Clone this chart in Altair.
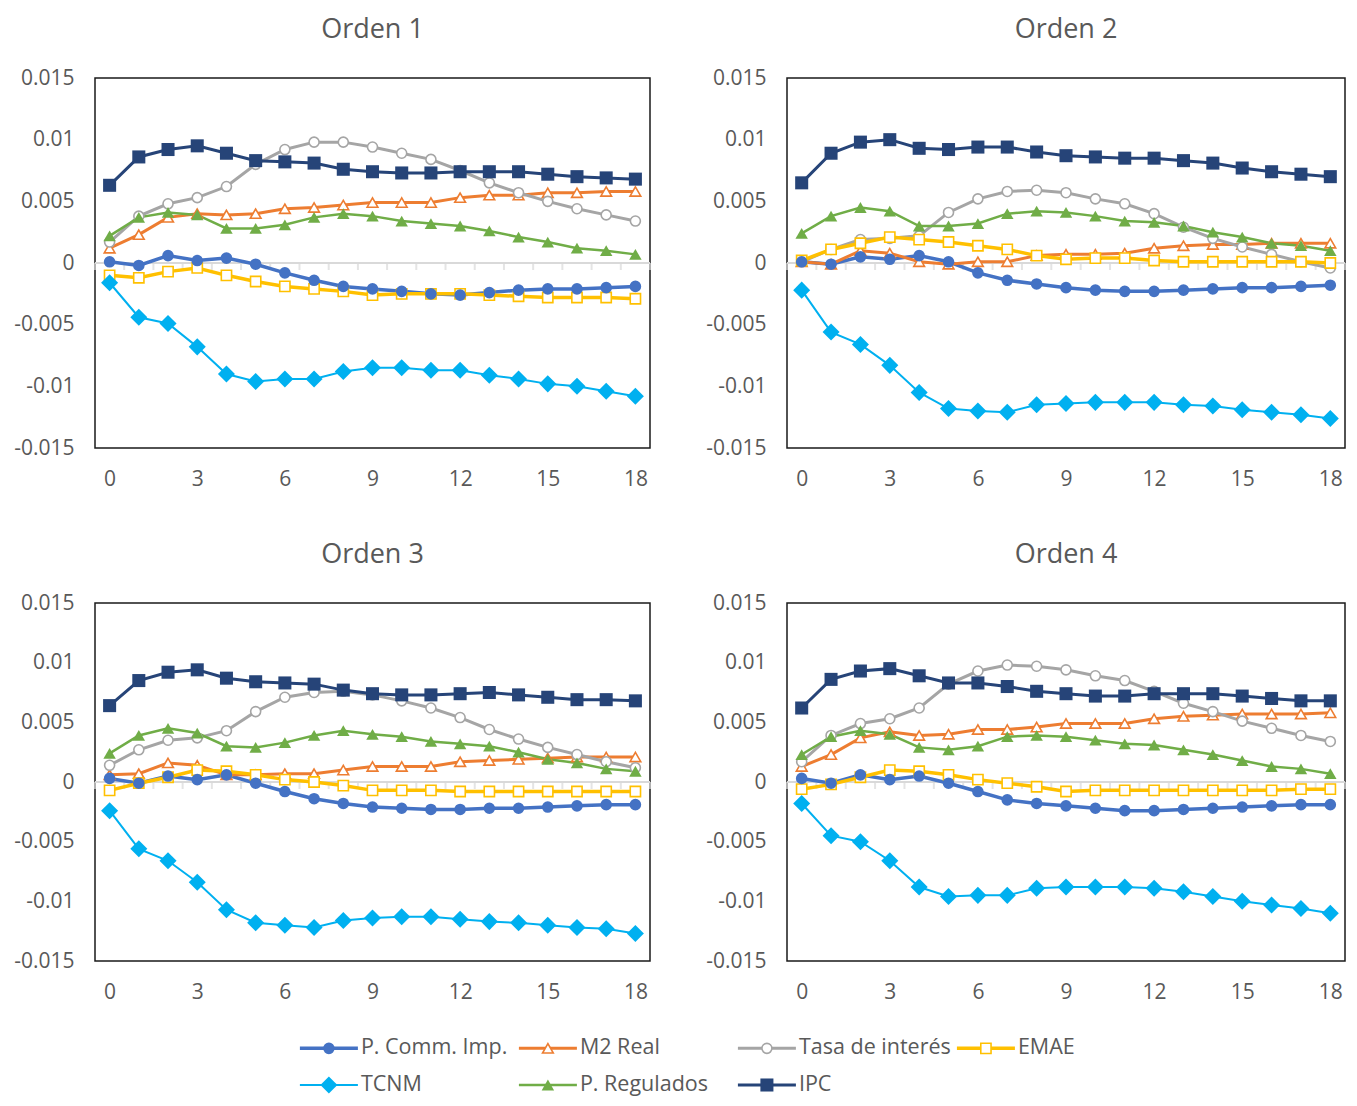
import altair as alt
import pandas as pd

HORIZON = list(range(19))
SERIES = ["P. Comm. Imp.", "M2 Real", "Tasa de interés", "EMAE", "TCNM", "P. Regulados", "IPC"]
COLORS = ["#4472C4", "#ED7D31", "#A5A5A5", "#FFC000", "#00B0F0", "#70AD47", "#264478"]
SHAPES = ["circle", "triangle-up", "circle", "square", "diamond", "triangle-up", "square"]
FILLED = [True, False, False, False, True, True, True]
LINE_W = [3.5, 3, 3, 3.5, 2, 2.5, 3]
MARK_SIZE = [135, 115, 100, 105, 290, 155, 170]
TITLES = ["Orden 1", "Orden 2", "Orden 3", "Orden 4"]
Y_TICKS = [-0.015, -0.01, -0.005, 0, 0.005, 0.01, 0.015]
X_TICKS = [0, 3, 6, 9, 12, 15, 18]
LEG_COL = [0, 1, 2, 3, 0, 1, 2]
LEG_ROW = [0, 0, 0, 0, 1, 1, 1]

# Orden 1
PCOMM1 = [0.0001, -0.0002, 0.0006, 0.0002, 0.0004, -0.0001, -0.0008, -0.0014, -0.0019, -0.0021, -0.0023, -0.0025, -0.0026, -0.0024, -0.0022, -0.0021, -0.0021, -0.0020, -0.0019]
M2_1 = [0.0012, 0.0023, 0.0037, 0.0040, 0.0039, 0.0040, 0.0044, 0.0045, 0.0047, 0.0049, 0.0049, 0.0049, 0.0053, 0.0055, 0.0055, 0.0057, 0.0057, 0.0058, 0.0058]
TASA1 = [0.0017, 0.0038, 0.0048, 0.0053, 0.0062, 0.0080, 0.0092, 0.0098, 0.0098, 0.0094, 0.0089, 0.0084, 0.0075, 0.0065, 0.0057, 0.0050, 0.0044, 0.0039, 0.0034]
EMAE1 = [-0.0010, -0.0012, -0.0007, -0.0004, -0.0010, -0.0015, -0.0019, -0.0021, -0.0023, -0.0026, -0.0025, -0.0025, -0.0025, -0.0026, -0.0027, -0.0028, -0.0028, -0.0028, -0.0029]
TCNM1 = [-0.0016, -0.0044, -0.0049, -0.0068, -0.0090, -0.0096, -0.0094, -0.0094, -0.0088, -0.0085, -0.0085, -0.0087, -0.0087, -0.0091, -0.0094, -0.0098, -0.0100, -0.0104, -0.0108]
PREG1 = [0.0022, 0.0037, 0.0041, 0.0039, 0.0028, 0.0028, 0.0031, 0.0037, 0.0040, 0.0038, 0.0034, 0.0032, 0.0030, 0.0026, 0.0021, 0.0017, 0.0012, 0.0010, 0.0007]
IPC1 = [0.0063, 0.0086, 0.0092, 0.0095, 0.0089, 0.0083, 0.0082, 0.0081, 0.0076, 0.0074, 0.0073, 0.0073, 0.0074, 0.0074, 0.0074, 0.0072, 0.0070, 0.0069, 0.0068]

# Orden 2
PCOMM2 = [0.0001, -0.0001, 0.0005, 0.0003, 0.0006, 0.0001, -0.0008, -0.0014, -0.0017, -0.0020, -0.0022, -0.0023, -0.0023, -0.0022, -0.0021, -0.0020, -0.0020, -0.0019, -0.0018]
M2_2 = [0.0001, -0.0001, 0.0010, 0.0008, 0.0001, -0.0001, 0.0001, 0.0001, 0.0006, 0.0007, 0.0007, 0.0008, 0.0012, 0.0014, 0.0015, 0.0015, 0.0016, 0.0016, 0.0016]
TASA2 = [0.0001, 0.0011, 0.0019, 0.0020, 0.0022, 0.0041, 0.0052, 0.0058, 0.0059, 0.0057, 0.0052, 0.0048, 0.0040, 0.0029, 0.0020, 0.0013, 0.0007, 0.0001, -0.0004]
EMAE2 = [0.0002, 0.0011, 0.0016, 0.0021, 0.0019, 0.0017, 0.0014, 0.0011, 0.0006, 0.0003, 0.0004, 0.0004, 0.0002, 0.0001, 0.0001, 0.0001, 0.0001, 0.0001, 0.0000]
TCNM2 = [-0.0022, -0.0056, -0.0066, -0.0083, -0.0105, -0.0118, -0.0120, -0.0121, -0.0115, -0.0114, -0.0113, -0.0113, -0.0113, -0.0115, -0.0116, -0.0119, -0.0121, -0.0123, -0.0126]
PREG2 = [0.0024, 0.0038, 0.0045, 0.0042, 0.0030, 0.0030, 0.0032, 0.0040, 0.0042, 0.0041, 0.0038, 0.0034, 0.0033, 0.0030, 0.0025, 0.0021, 0.0016, 0.0014, 0.0010]
IPC2 = [0.0065, 0.0089, 0.0098, 0.0100, 0.0093, 0.0092, 0.0094, 0.0094, 0.0090, 0.0087, 0.0086, 0.0085, 0.0085, 0.0083, 0.0081, 0.0077, 0.0074, 0.0072, 0.0070]

# Orden 3
PCOMM3 = [0.0003, -0.0001, 0.0005, 0.0002, 0.0006, -0.0001, -0.0008, -0.0014, -0.0018, -0.0021, -0.0022, -0.0023, -0.0023, -0.0022, -0.0022, -0.0021, -0.0020, -0.0019, -0.0019]
M2_3 = [0.0006, 0.0007, 0.0016, 0.0014, 0.0006, 0.0006, 0.0007, 0.0007, 0.0010, 0.0013, 0.0013, 0.0013, 0.0017, 0.0018, 0.0019, 0.0020, 0.0021, 0.0021, 0.0021]
TASA3 = [0.0014, 0.0027, 0.0035, 0.0037, 0.0043, 0.0059, 0.0071, 0.0075, 0.0076, 0.0073, 0.0068, 0.0062, 0.0054, 0.0044, 0.0036, 0.0029, 0.0023, 0.0017, 0.0012]
EMAE3 = [-0.0007, -0.0001, 0.0004, 0.0010, 0.0009, 0.0006, 0.0002, 0.0000, -0.0003, -0.0007, -0.0007, -0.0007, -0.0008, -0.0008, -0.0008, -0.0008, -0.0008, -0.0008, -0.0008]
TCNM3 = [-0.0024, -0.0056, -0.0066, -0.0084, -0.0107, -0.0118, -0.0120, -0.0122, -0.0116, -0.0114, -0.0113, -0.0113, -0.0115, -0.0117, -0.0118, -0.0120, -0.0122, -0.0123, -0.0127]
PREG3 = [0.0024, 0.0039, 0.0045, 0.0041, 0.0030, 0.0029, 0.0033, 0.0039, 0.0043, 0.0040, 0.0038, 0.0034, 0.0032, 0.0030, 0.0025, 0.0019, 0.0016, 0.0011, 0.0009]
IPC3 = [0.0064, 0.0085, 0.0092, 0.0094, 0.0087, 0.0084, 0.0083, 0.0082, 0.0077, 0.0074, 0.0073, 0.0073, 0.0074, 0.0075, 0.0073, 0.0071, 0.0069, 0.0069, 0.0068]

# Orden 4
PCOMM4 = [0.0003, -0.0001, 0.0006, 0.0002, 0.0005, -0.0001, -0.0008, -0.0015, -0.0018, -0.0020, -0.0022, -0.0024, -0.0024, -0.0023, -0.0022, -0.0021, -0.0020, -0.0019, -0.0019]
M2_4 = [0.0013, 0.0023, 0.0037, 0.0042, 0.0039, 0.0040, 0.0044, 0.0044, 0.0046, 0.0049, 0.0049, 0.0049, 0.0053, 0.0055, 0.0056, 0.0057, 0.0057, 0.0057, 0.0058]
TASA4 = [0.0017, 0.0039, 0.0049, 0.0053, 0.0062, 0.0082, 0.0093, 0.0098, 0.0097, 0.0094, 0.0089, 0.0085, 0.0076, 0.0066, 0.0059, 0.0051, 0.0045, 0.0039, 0.0034]
EMAE4 = [-0.0006, -0.0002, 0.0004, 0.0010, 0.0009, 0.0006, 0.0002, -0.0001, -0.0004, -0.0008, -0.0007, -0.0007, -0.0007, -0.0007, -0.0007, -0.0007, -0.0007, -0.0006, -0.0006]
TCNM4 = [-0.0018, -0.0045, -0.0050, -0.0066, -0.0088, -0.0096, -0.0095, -0.0095, -0.0089, -0.0088, -0.0088, -0.0088, -0.0089, -0.0092, -0.0096, -0.0100, -0.0103, -0.0106, -0.0110]
PREG4 = [0.0023, 0.0038, 0.0043, 0.0040, 0.0029, 0.0027, 0.0030, 0.0038, 0.0039, 0.0038, 0.0035, 0.0032, 0.0031, 0.0027, 0.0023, 0.0018, 0.0013, 0.0011, 0.0007]
IPC4 = [0.0062, 0.0086, 0.0093, 0.0095, 0.0089, 0.0083, 0.0083, 0.0080, 0.0076, 0.0074, 0.0072, 0.0072, 0.0074, 0.0074, 0.0074, 0.0072, 0.0070, 0.0068, 0.0068]

PANELS = [
    [PCOMM1, M2_1, TASA1, EMAE1, TCNM1, PREG1, IPC1],
    [PCOMM2, M2_2, TASA2, EMAE2, TCNM2, PREG2, IPC2],
    [PCOMM3, M2_3, TASA3, EMAE3, TCNM3, PREG3, IPC3],
    [PCOMM4, M2_4, TASA4, EMAE4, TCNM4, PREG4, IPC4],
]

FONT = "Open Sans"
TXT = "#595959"

color_scale = alt.Scale(domain=SERIES, range=COLORS)
shape_scale = alt.Scale(domain=SERIES, range=SHAPES)
width_scale = alt.Scale(type="ordinal", domain=SERIES, range=LINE_W)
size_scale = alt.Scale(type="ordinal", domain=SERIES, range=MARK_SIZE)


def enc_pts(x, y):
    return dict(
        x=x, y=y,
        color=alt.Color("s:N", scale=color_scale, legend=None),
        shape=alt.Shape("s:N", scale=shape_scale, legend=None),
        size=alt.Size("s:N", scale=size_scale, legend=None),
    )


def panel(idx, w, h):
    rows = []
    for s, vals, filled in zip(SERIES, PANELS[idx], FILLED):
        for t, v in zip(HORIZON, vals):
            rows.append({"s": s, "t": t, "v": v, "filled": filled})
    df = pd.DataFrame(rows)

    x = alt.X("t:Q", scale=alt.Scale(domain=[-0.5, 18.5], nice=False, zero=False),
              axis=alt.Axis(values=X_TICKS, domain=False, ticks=False, grid=False,
                            labelPadding=20, title=None, labelFontSize=21,
                            labelColor=TXT, labelFont=FONT, labelFlush=False))
    y = alt.Y("v:Q", scale=alt.Scale(domain=[-0.015, 0.015], nice=False, zero=False),
              axis=alt.Axis(values=Y_TICKS, labelExpr="toString(datum.value)", domain=False,
                            ticks=False, grid=False, labelPadding=21, title=None,
                            labelFontSize=21, labelColor=TXT, labelFont=FONT))

    base = alt.Chart(df)
    zero = alt.Chart(pd.DataFrame({"z": [0]})).mark_rule(color="#D9D9D9", strokeWidth=2).encode(
        y=alt.Y("z:Q"))
    bounds = pd.DataFrame({"b": [i - 0.5 for i in range(20)], "z": [0] * 20})
    ticks = alt.Chart(bounds).mark_tick(orient="vertical", size=7, thickness=2, color="#D9D9D9",
                                        yOffset=3.5).encode(x=alt.X("b:Q"), y=alt.Y("z:Q"))
    lines = base.mark_line().encode(
        x=x, y=y,
        color=alt.Color("s:N", scale=color_scale, legend=None),
        strokeWidth=alt.StrokeWidth("s:N", scale=width_scale, legend=None),
        detail="s:N",
    )
    pts_f = base.transform_filter("datum.filled").mark_point(filled=True, opacity=1).encode(
        **enc_pts(x, y))
    pts_o = base.transform_filter("!datum.filled").mark_point(
        filled=False, fill="white", fillOpacity=1, opacity=1, strokeWidth=1.6).encode(**enc_pts(x, y))
    return alt.layer(zero, ticks, lines, pts_o, pts_f).properties(
        width=w, height=h,
        title=alt.TitleParams(TITLES[idx], fontSize=27, color=TXT, font=FONT,
                              fontWeight="normal", anchor="middle", offset=23),
    )


# custom legend built from the series list
leg_df = pd.DataFrame({"s": SERIES, "col": LEG_COL, "row": LEG_ROW, "filled": FILLED})
lx = alt.X("col:Q", scale=alt.Scale(domain=[-1.068, 4.183], nice=False, zero=False), axis=None)
ly = alt.Y("row:Q", scale=alt.Scale(domain=[-0.5, 1.0], reverse=True, nice=False, zero=False), axis=None)
leg_base = alt.Chart(leg_df)
leg_line = leg_base.mark_point(shape="M-1,0L1,0", size=3364, filled=False, opacity=1).encode(
    x=lx, y=ly,
    color=alt.Color("s:N", scale=color_scale, legend=None),
    strokeWidth=alt.StrokeWidth("s:N", scale=width_scale, legend=None),
)
leg_pf = leg_base.transform_filter("datum.filled").mark_point(filled=True, opacity=1).encode(
    **enc_pts(lx, ly))
leg_po = leg_base.transform_filter("!datum.filled").mark_point(
    filled=False, fill="white", fillOpacity=1, opacity=1, strokeWidth=1.6).encode(**enc_pts(lx, ly))
leg_txt = leg_base.mark_text(align="left", baseline="middle", dx=32, fontSize=21.5, color=TXT,
                             font=FONT).encode(x=lx, y=ly, text="s:N")
legend = alt.layer(leg_line, leg_po, leg_pf, leg_txt).properties(
    width=1150, height=55, view=alt.ViewBackground(stroke="transparent"))

row1 = alt.hconcat(panel(0, 555, 370), panel(1, 558, 370), spacing=52)
row2 = alt.hconcat(panel(2, 555, 358), panel(3, 558, 358), spacing=52)

panels = alt.vconcat(row1, row2, spacing=50)
chart = alt.vconcat(panels, legend, spacing=26).properties(
    padding={"left": 4, "top": 7, "right": 0, "bottom": 0}
).configure_view(stroke="#1a1a1a", strokeWidth=1.5)

chart.save("out.html", embed_options={"renderer": "svg", "actions": False})
